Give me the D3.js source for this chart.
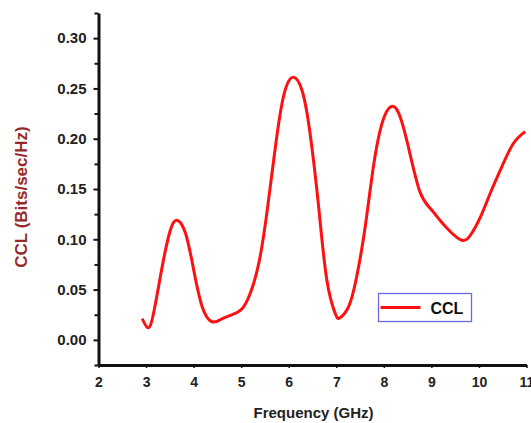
<!DOCTYPE html>
<html>
<head>
<meta charset="utf-8">
<script src="https://cdn.jsdelivr.net/npm/d3@7"></script>
<style>
  body { margin: 0; background: #fff; }
  svg { display: block; font-family: "Liberation Sans", Arial, sans-serif; }
  .axis path, .axis line { stroke: #111; }
  .axis text { fill: #222; font-weight: bold; }
</style>
</head>
<body>
<svg id="chart"></svg>
<script>
// values
const freq = [2.92, 3.04, 3.16, 3.34, 3.51, 3.65, 3.83, 4.0, 4.18, 4.39, 4.6, 4.81, 5.02, 5.19, 5.37,
  5.54, 5.72, 5.89, 6.08, 6.28, 6.45, 6.63, 6.8, 6.98, 7.08, 7.26, 7.43, 7.61, 7.78, 7.96,
  8.15, 8.34, 8.55, 8.76, 8.97, 9.18, 9.39, 9.64, 9.82, 10.03, 10.24, 10.48, 10.72, 10.97];
const ccl = [0.021, 0.012, 0.027, 0.073, 0.109, 0.119, 0.106, 0.07, 0.033, 0.018, 0.021, 0.025, 0.031, 0.046, 0.076,
  0.126, 0.192, 0.242, 0.261, 0.248, 0.205, 0.132, 0.06, 0.026, 0.022, 0.033, 0.063, 0.113, 0.172, 0.215,
  0.232, 0.222, 0.185, 0.147, 0.131, 0.119, 0.108, 0.099, 0.104, 0.122, 0.146, 0.172, 0.195, 0.207];
const xTicks = [2, 3, 4, 5, 6, 7, 8, 9, 10, 11];
const yTicks = [0, 0.05, 0.1, 0.15, 0.2, 0.25, 0.3];
const yMinorTicks = [-0.025, 0.025, 0.075, 0.125, 0.175, 0.225, 0.275, 0.325];

const width = 531, height = 423;
const margin = { top: 13, right: 4.5, bottom: 58, left: 98.5 };

const svg = d3.select("#chart")
  .attr("width", width)
  .attr("height", height);

const x = d3.scaleLinear()
  .domain([2, 11])
  .range([margin.left, width - margin.right]);

const y = d3.scaleLinear()
  .domain([-0.025, 0.325])
  .range([height - margin.bottom, margin.top]);

// minor y ticks
svg.append("g")
  .attr("class", "axis")
  .attr("transform", `translate(${margin.left},0)`)
  .call(d3.axisLeft(y).tickValues(yMinorTicks).tickSize(4).tickFormat(""))
  .call(g => g.select(".domain").remove())
  .selectAll("line").attr("stroke-width", 2);

// y axis
const yAxis = svg.append("g")
  .attr("class", "axis")
  .attr("transform", `translate(${margin.left},0)`)
  .call(d3.axisLeft(y).tickValues(yTicks).tickSize(5).tickSizeOuter(0).tickPadding(7).tickFormat(d3.format(".2f")));
yAxis.select(".domain").attr("stroke-width", 3);
yAxis.selectAll("line").attr("stroke-width", 2);
yAxis.selectAll("text").style("font-size", "15px");

// x axis (the "11" is clipped by the right edge, as in the original)
const xAxis = svg.append("g")
  .attr("class", "axis")
  .attr("transform", `translate(0,${height - margin.bottom})`)
  .call(d3.axisBottom(x).tickValues(xTicks).tickSize(3).tickSizeOuter(0).tickPadding(9).tickFormat(d3.format("d")));
xAxis.select(".domain").attr("stroke-width", 3);
xAxis.selectAll("line").attr("stroke-width", 1.5);
xAxis.selectAll("text").style("font-size", "14px");

// axis titles
svg.append("text")
  .attr("transform", `translate(27,${(y(0.325) + y(-0.025)) / 2 + 8}) rotate(-90)`)
  .attr("text-anchor", "middle")
  .attr("fill", "#962a2a")
  .style("font-size", "17px")
  .style("font-weight", "bold")
  .text("CCL (Bits/sec/Hz)");

svg.append("text")
  .attr("x", (x(2) + x(11)) / 2 + 1)
  .attr("y", 418)
  .attr("text-anchor", "middle")
  .attr("fill", "#222")
  .style("font-size", "15px")
  .style("font-weight", "bold")
  .text("Frequency (GHz)");

// curve
const line = d3.line()
  .x((d, i) => x(freq[i]))
  .y(d => y(d))
  .curve(d3.curveNatural);

svg.append("path")
  .datum(ccl)
  .attr("fill", "none")
  .attr("stroke", "#ff1010")
  .attr("stroke-width", 3)
  .attr("stroke-linejoin", "round")
  .attr("d", line);

// legend
const legend = svg.append("g").attr("transform", "translate(378.5,293.5)");
legend.append("rect")
  .attr("width", 93)
  .attr("height", 28)
  .attr("fill", "#fff")
  .attr("stroke", "#6a6ae6")
  .attr("stroke-width", 1.3);
legend.append("line")
  .attr("x1", 2).attr("x2", 42)
  .attr("y1", 14).attr("y2", 14)
  .attr("stroke", "#ff1010")
  .attr("stroke-width", 3);
legend.append("text")
  .attr("x", 52)
  .attr("y", 20)
  .attr("fill", "#111")
  .style("font-size", "16px")
  .style("font-weight", "bold")
  .text("CCL");
</script>
</body>
</html>
